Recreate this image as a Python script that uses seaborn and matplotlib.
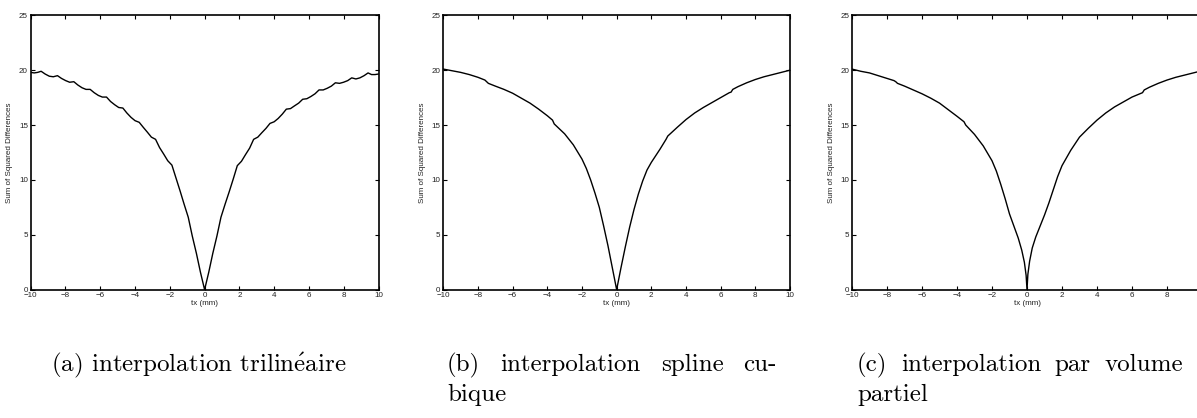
import matplotlib
matplotlib.use('Agg')
import matplotlib.pyplot as plt
import seaborn as sns
import pandas as pd

# (a) trilinear interpolation - scalloped curve, cusps every ~0.94 mm
tx_tri = [-10, -9.8, -9.6, -9.4, -9.17, -8.93, -8.7, -8.46, -8.23, -7.99, -7.76, -7.52,
          -7.29, -7.05, -6.82, -6.58, -6.35, -6.11, -5.88, -5.64, -5.41, -5.17, -4.94, -4.7,
          -4.47, -4.23, -4.0, -3.76, -3.53, -3.29, -3.06, -2.82, -2.59, -2.35, -2.12, -1.88,
          -1.65, -1.41, -1.18, -0.94, -0.71, -0.47, -0.24, 0,
          0.24, 0.47, 0.71, 0.94, 1.18, 1.41, 1.65, 1.88, 2.12, 2.35, 2.59, 2.82,
          3.06, 3.29, 3.53, 3.76, 4.0, 4.23, 4.47, 4.7, 4.94, 5.17, 5.41, 5.64,
          5.88, 6.11, 6.35, 6.58, 6.82, 7.05, 7.29, 7.52, 7.76, 7.99, 8.23, 8.46,
          8.7, 8.93, 9.17, 9.4, 9.6, 9.8, 10]
ssd_tri = [19.8, 19.75, 19.8, 19.9, 19.65, 19.45, 19.4, 19.5, 19.25, 19.05, 18.9, 18.95,
           18.65, 18.4, 18.25, 18.25, 17.95, 17.7, 17.55, 17.55, 17.15, 16.85, 16.6, 16.55,
           16.1, 15.7, 15.4, 15.25, 14.8, 14.35, 13.9, 13.7, 12.95, 12.35, 11.75, 11.35,
           10.2, 9.0, 7.8, 6.6, 4.9, 3.3, 1.6, 0,
           1.6, 3.3, 4.9, 6.6, 7.8, 8.9, 10.1, 11.3, 11.7, 12.3, 12.9, 13.7,
           13.9, 14.3, 14.7, 15.15, 15.3, 15.6, 16.0, 16.45, 16.5, 16.75, 17.0, 17.35,
           17.4, 17.6, 17.85, 18.2, 18.2, 18.35, 18.55, 18.85, 18.8, 18.9, 19.05, 19.3,
           19.2, 19.3, 19.5, 19.75, 19.6, 19.6, 19.65]

# (b) cubic spline interpolation
tx_spl = [-10, -9.5, -9, -8.5, -8, -7.6, -7.5, -7.4, -7, -6.5, -6, -5.5, -5, -4.5, -4,
          -3.7, -3.6, -3.5, -3, -2.5, -2, -1.75, -1.5, -1.25, -1, -0.75, -0.5, -0.25, 0,
          0.25, 0.5, 0.75, 1, 1.25, 1.5, 1.75, 2, 2.5, 2.85, 2.95, 3.5, 4, 4.5, 5, 5.5,
          6, 6.5, 6.6, 6.7, 7, 7.5, 8, 8.5, 9, 9.5, 10]
ssd_spl = [20.1, 19.95, 19.8, 19.6, 19.35, 19.1, 18.95, 18.8, 18.55, 18.25, 17.9, 17.45,
           17.0, 16.45, 15.85, 15.45, 15.1, 14.95, 14.2, 13.2, 11.9, 11.05, 10.0, 8.8, 7.5,
           5.8, 4.0, 2.0, 0,
           2.0, 3.9, 5.7, 7.3, 8.7, 9.9, 10.9, 11.6, 12.8, 13.7, 14.0, 14.8, 15.5, 16.1,
           16.6, 17.05, 17.5, 17.95, 18.0, 18.25, 18.5, 18.85, 19.15, 19.4, 19.6, 19.8, 20.0]

# (c) partial volume interpolation
tx_pv = [-10, -9.5, -9, -8.5, -8, -7.6, -7.5, -7.4, -7, -6.5, -6, -5.5, -5, -4.5, -4,
         -3.6, -3.5, -3, -2.5, -2, -1.75, -1.5, -1.25, -1, -0.75, -0.5, -0.3, -0.15, -0.05, 0,
         0.05, 0.15, 0.3, 0.5, 0.75, 1, 1.25, 1.5, 1.75, 2, 2.5, 3, 3.5, 4, 4.5, 5, 5.5,
         6, 6.6, 6.7, 7, 7.5, 8, 8.5, 9, 9.5, 10]
ssd_pv = [20.1, 19.9, 19.75, 19.5, 19.25, 19.05, 18.95, 18.8, 18.55, 18.2, 17.85, 17.45,
          17.0, 16.4, 15.8, 15.3, 15.0, 14.15, 13.1, 11.75, 10.8, 9.6, 8.3, 6.9, 5.8, 4.7,
          3.6, 2.5, 1.3, 0,
          1.4, 2.6, 3.8, 4.8, 5.8, 6.8, 7.9, 9.1, 10.3, 11.3, 12.7, 13.9, 14.7, 15.45,
          16.1, 16.65, 17.1, 17.55, 17.95, 18.2, 18.45, 18.8, 19.1, 19.35, 19.55, 19.75, 19.95]

x_ticks = [-10, -8, -6, -4, -2, 0, 2, 4, 6, 8, 10]
y_ticks = [0, 5, 10, 15, 20, 25]

captions = [
    [['(a)', 'interpolation', r'trilin$\acute{\mathrm{e}}$aire']],
    [['(b)', 'interpolation', 'spline', 'cu-'], ['bique']],
    [['(c)', 'interpolation', 'par', 'volume'], ['partiel']],
]

sns.set_style('ticks')
plt.rcParams['font.family'] = ['Liberation Sans', 'DejaVu Sans']
plt.rcParams['mathtext.fontset'] = 'cm'

W, H = 1197, 418
fig = plt.figure(figsize=(W / 100, H / 100), dpi=100)

# axes boxes in pixels: left, right
boxes = [(30.7, 378.5), (443.3, 790.0), (852.0, 1202.0)]
top_px, bot_px = 15.3, 289.7
series = [(tx_tri, ssd_tri), (tx_spl, ssd_spl), (tx_pv, ssd_pv)]

for k, ((l, r), (xs, ys)) in enumerate(zip(boxes, series)):
    ax = fig.add_axes([l / W, 1 - bot_px / H, (r - l) / W, (bot_px - top_px) / H])
    df = pd.DataFrame({'tx': xs, 'ssd': ys})
    sns.lineplot(data=df, x='tx', y='ssd', ax=ax, color='black', linewidth=1.0, sort=False)
    ax.set_xlim(-10, 10)
    ax.set_ylim(0, 25)
    ax.set_xticks(x_ticks)
    labels = ['\u2212' + str(-t) if t < 0 else str(t) for t in x_ticks]
    if k == 2:
        labels[-1] = ''  # falls off the page edge
    ax.set_xticklabels(labels)
    ax.set_yticks(y_ticks)
    ax.tick_params(direction='in', length=3, width=0.8, labelsize=5.8, pad=2,
                   top=True, right=True, colors='black', labelcolor='#222222')
    for s in ax.spines.values():
        s.set_visible(True)
        s.set_linewidth(1.2)
        s.set_color('black')
    ax.set_xlabel('tx (mm)', fontsize=5.8, labelpad=0.5, color='#222222')
    ax.set_ylabel('Sum of Squared Differences', fontsize=5.8, labelpad=4, color='#222222')

# captions: (a) centred in its column, (b) and (c) justified over two lines
renderer = fig.canvas.get_renderer()
cols = [(33, 365), (447, 777), (857, 1183)]
line_y = [371, 401]
cap_font = dict(family=['cmr10', 'DejaVu Serif'], fontsize=18, color='black', va='baseline')

for (x0, x1), lines in zip(cols, captions):
    for i, words in enumerate(lines):
        y = 1 - line_y[i] / H
        if len(lines) == 1:
            fig.text((x0 + x1) / 2 / W, y, ' '.join(words), ha='center', **cap_font)
            continue
        if i == len(lines) - 1:
            fig.text(x0 / W, y, ' '.join(words), **cap_font)
            continue
        texts = [fig.text(0, y, w, **cap_font) for w in words]
        widths = [t.get_window_extent(renderer).width for t in texts]
        gap = ((x1 - x0) - sum(widths)) / (len(words) - 1)
        x = x0
        for t, w in zip(texts, widths):
            t.set_x(x / W)
            x += w + gap

fig.savefig('out.png', dpi=100)
